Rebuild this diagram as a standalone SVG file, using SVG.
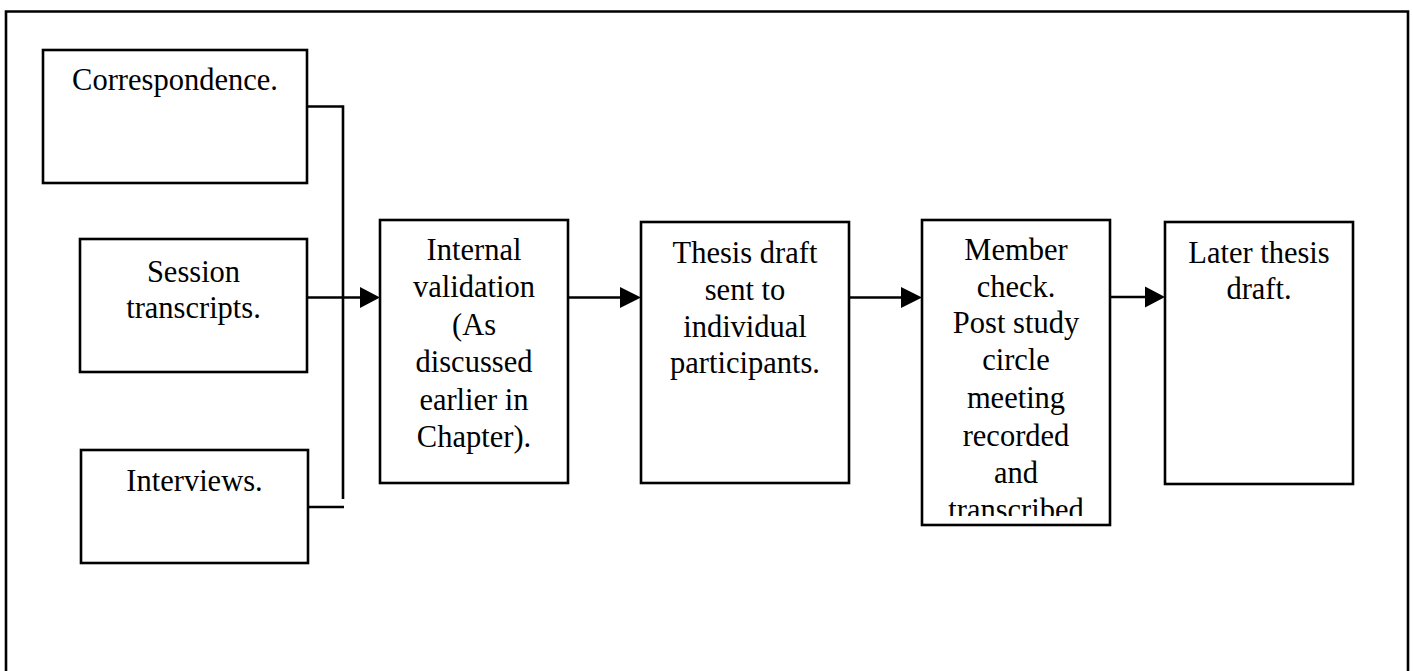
<svg xmlns="http://www.w3.org/2000/svg" width="1413" height="671" viewBox="0 0 1413 671">
<style>
.box{fill:#fff;stroke:#000;stroke-width:2.6}
.ln{fill:none;stroke:#000;stroke-width:2.6}
.ah{fill:#000;stroke:none}
text{font-family:"Liberation Serif","Times New Roman",serif;font-size:30.5px;fill:#000;text-anchor:middle}
</style>
<defs>
<clipPath id="mcClip"><rect x="922" y="220" width="188" height="296"/></clipPath>
</defs>
<rect width="1413" height="671" fill="#fff"/>
<path class="ln" d="M6,671 V11.5 H1408 V671" stroke-width="3"/>
<g id="n-correspondence">
<rect class="box" x="43" y="50" width="264" height="133"/>
<text x="175" y="90">Correspondence.</text>
</g>
<g id="n-session">
<rect class="box" x="80" y="239" width="227" height="133"/>
<text x="193.5" y="282">Session</text>
<text x="193.5" y="318">transcripts.</text>
</g>
<g id="n-interviews">
<rect class="box" x="81" y="450" width="227" height="113"/>
<text x="194.5" y="491">Interviews.</text>
</g>
<g id="n-internal">
<rect class="box" x="380" y="220" width="188" height="263"/>
<text x="474" y="260">Internal</text>
<text x="474" y="297">validation</text>
<text x="474" y="335">(As</text>
<text x="474" y="372">discussed</text>
<text x="474" y="410">earlier in</text>
<text x="474" y="447">Chapter).</text>
</g>
<g id="n-thesis">
<rect class="box" x="641" y="222" width="208" height="261"/>
<text x="745" y="263">Thesis draft</text>
<text x="745" y="300">sent to</text>
<text x="745" y="337">individual</text>
<text x="745" y="373">participants.</text>
</g>
<g id="n-member">
<rect class="box" x="922" y="220" width="188" height="305"/>
<g clip-path="url(#mcClip)">
<text x="1016" y="260">Member</text>
<text x="1016" y="297">check.</text>
<text x="1016" y="333">Post study</text>
<text x="1016" y="370">circle</text>
<text x="1016" y="408">meeting</text>
<text x="1016" y="446">recorded</text>
<text x="1016" y="483">and</text>
<text x="1016" y="520">transcribed</text>
</g>
</g>
<g id="n-later">
<rect class="box" x="1165" y="222" width="188" height="262"/>
<text x="1259" y="263">Later thesis</text>
<text x="1259" y="299">draft.</text>
</g>
<g id="connectors">
<path class="ln" d="M307,106.5 H343 V499"/>
<path class="ln" d="M307,507 H344"/>
<path class="ln" d="M307,297.5 H362"/>
<polygon class="ah" points="360,287 380,297.5 360,308"/>
<path class="ln" d="M568,297.5 H622"/>
<polygon class="ah" points="620,287 641,297.5 620,308"/>
<path class="ln" d="M849,297.5 H903"/>
<polygon class="ah" points="901,287 922,297.5 901,308"/>
<path class="ln" d="M1110,297 H1147"/>
<polygon class="ah" points="1145,286.5 1165,297 1145,307.5"/>
</g>
</svg>
